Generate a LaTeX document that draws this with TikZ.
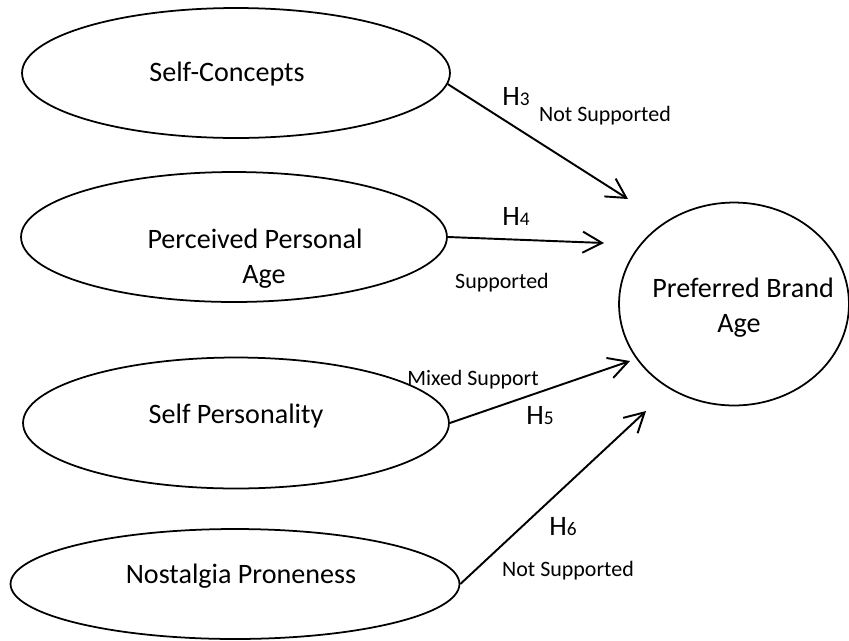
\documentclass[tikz,border=0pt]{standalone}
\usepackage{fontspec}
\setmainfont{Carlito}
\usetikzlibrary{arrows.meta,shapes.geometric}

\begin{document}
\begin{tikzpicture}[x=0.02cm,y=-0.02cm,
    oval/.style={draw,ellipse,line width=1pt,inner sep=0pt},
    bigtxt/.style={font=\fontsize{16}{20}\selectfont,anchor=base,inner sep=0pt},
    smalltxt/.style={font=\fontsize{12.5}{15}\selectfont,anchor=base,inner sep=0pt},
    hyp/.style={line width=1.1pt,-{Straight Barb[length=11pt,width=12pt]}}]
  \useasboundingbox (0,0) rectangle (849,640);

  % constructs
  \node[oval,minimum width=8.56cm,minimum height=2.6cm] (sc) at (236,73) {};
  \node[bigtxt] (sctxt) at (227,81) {Self-Concepts};

  \node[oval,minimum width=8.52cm,minimum height=2.6cm] (ppa) at (234,237) {};
  \node[bigtxt] (ppatxt) at (255,248) {Perceived Personal};
  \node[bigtxt] (ppatxtb) at (264,283) {Age};

  \node[oval,minimum width=8.52cm,minimum height=2.62cm] (sp) at (236,423) {};
  \node[bigtxt] (sptxt) at (236,423) {Self Personality};

  \node[oval,minimum width=8.98cm,minimum height=2.2cm] (np) at (235,584) {};
  \node[bigtxt] (nptxt) at (241,583) {Nostalgia Proneness};

  \node[oval,minimum width=4.6cm,minimum height=4.06cm] (pba) at (734,304) {};
  \node[bigtxt] (pbatxt) at (743,297) {Preferred Brand};
  \node[bigtxt] (pbatxtb) at (739,332) {Age};

  % arrow ends
  \coordinate (h3tip) at (628,199);
  \coordinate (h4tip) at (604,243);
  \coordinate (h5tip) at (630,361);
  \coordinate (h6tip) at (646,411);

  \draw[hyp] (sc.-3) -- (h3tip);
  \draw[hyp] (ppa.east) -- (h4tip);
  \draw[hyp] (sp.east) -- (h5tip);
  \draw[hyp] (np.east) -- (h6tip);

  % hypotheses
  \node[bigtxt] (h3) at (516,105) {H{\fontsize{11}{11}\selectfont 3}};
  \node[smalltxt] (h3res) at (605,121) {Not Supported};
  \node[bigtxt] (h4) at (516,225) {H{\fontsize{11}{11}\selectfont 4}};
  \node[smalltxt] (h4res) at (502,288) {Supported};
  \node[smalltxt] (h5res) at (473,385) {Mixed Support};
  \node[bigtxt] (h5) at (540,424) {H{\fontsize{11}{11}\selectfont 5}};
  \node[bigtxt] (h6) at (563,535) {H{\fontsize{11}{11}\selectfont 6}};
  \node[smalltxt] (h6res) at (568,576) {Not Supported};
\end{tikzpicture}
\end{document}
